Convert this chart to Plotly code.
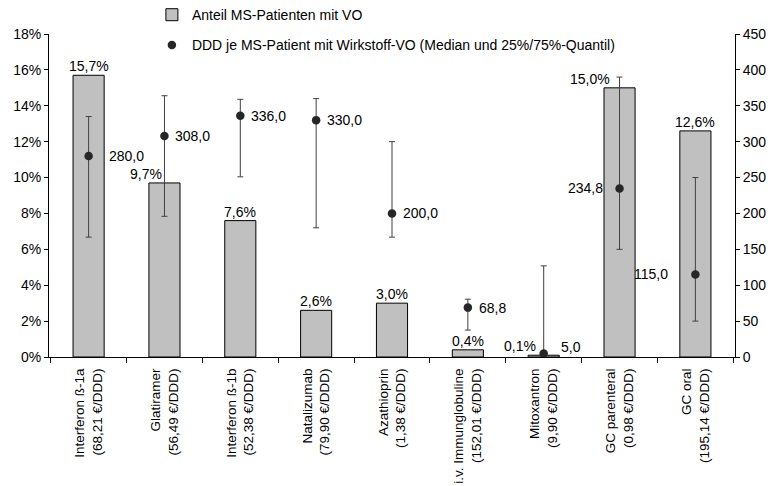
import plotly.graph_objects as go

categories = [
    "Interferon ß-1a<br>(68,21 €/DDD)",
    "Glatiramer<br>(56,49 €/DDD)",
    "Interferon ß-1b<br>(52,38 €/DDD)",
    "Natalizumab<br>(79,90 €/DDD)",
    "Azathioprin<br>(1,38 €/DDD)",
    "i.v. Immunglobuline<br>(152,01 €/DDD)",
    "Mitoxantron<br>(9,90 €/DDD)",
    "GC parenteral<br>(0,98 €/DDD)",
    "GC oral<br>(195,14 €/DDD)",
]
share_pct = [15.7, 9.7, 7.6, 2.6, 3.0, 0.4, 0.1, 15.0, 12.6]
ddd_median = [280.0, 308.0, 336.0, 330.0, 200.0, 68.8, 5.0, 234.8, 115.0]
ddd_q75 = [335, 364, 359, 360, 300, 80.5, 127, 390, 250]
ddd_q25 = [167, 196, 251, 180, 167, 37.5, 0, 150, 50]

left_ticks = list(range(0, 19, 2))
right_ticks = list(range(0, 451, 50))

# label offsets (pixels) – layout only
bar_label_shift = [0, -18, 0, 0, 0, 0, -24, -30, 0]
pt_label_shift = [18, 9, 9, 9, 9, 9, 15, -15, -25]
pt_label_yshift = [0, 0, 0, 0, 0, 0, 6, 0, 0]

font_family = "Liberation Sans, Arial, sans-serif"

fig = go.Figure()
fig.add_trace(go.Bar(
    x=categories, y=share_pct, name="Anteil MS-Patienten mit VO",
    marker=dict(color="#C0C0C0", line=dict(color="#000000", width=1)),
    width=0.41, yaxis="y", legendgroup="a",
))
fig.add_trace(go.Scatter(
    x=categories, y=ddd_median, mode="markers",
    name="DDD je MS-Patient mit Wirkstoff-VO (Median und 25%/75%-Quantil)",
    marker=dict(color="#262626", size=8.5),
    error_y=dict(type="data", symmetric=False,
                 array=[h - m for h, m in zip(ddd_q75, ddd_median)],
                 arrayminus=[m - l for m, l in zip(ddd_median, ddd_q25)],
                 color="#404040", thickness=1, width=3),
    yaxis="y2", legendgroup="b",
))

annotations = []
for c, v, s in zip(categories, share_pct, bar_label_shift):
    annotations.append(dict(
        x=c, y=v, xref="x", yref="y", text=f"{v:.1f}".replace(".", ",") + "%",
        showarrow=False, yanchor="bottom", xanchor="center", xshift=s, yshift=-1,
        font=dict(size=14, color="#000000", family=font_family)))
for c, v, s, ys in zip(categories, ddd_median, pt_label_shift, pt_label_yshift):
    annotations.append(dict(
        x=c, y=v, xref="x", yref="y2", text=f"{v:.1f}".replace(".", ","),
        showarrow=False, yanchor="middle",
        xanchor="left" if s > 0 else "right", xshift=s, yshift=ys,
        font=dict(size=14, color="#000000", family=font_family)))

fig.update_layout(
    width=776, height=486,
    margin=dict(l=49, r=41, t=34, b=129, autoexpand=False),
    paper_bgcolor="white", plot_bgcolor="white",
    font=dict(family=font_family, size=14, color="#000000"),
    showlegend=True,
    legend=dict(x=0.150, y=1.108, xanchor="left", yanchor="top",
                traceorder="grouped", tracegroupgap=9,
                font=dict(size=14), bgcolor="rgba(0,0,0,0)"),
    xaxis=dict(type="category", showline=True, linecolor="#000000", linewidth=1,
               ticks="outside", tickson="boundaries", ticklen=5, tickcolor="#000000",
               tickangle=-90, showgrid=False, tickfont=dict(size=13.5),
               ticklabelstandoff=5, automargin=False),
    yaxis=dict(range=[0, 18], tickvals=left_ticks,
               ticktext=[f"{t}%" for t in left_ticks],
               showline=True, linecolor="#000000", linewidth=1, ticks="outside",
               ticklen=4, tickcolor="#000000", showgrid=False, zeroline=False,
               tickfont=dict(size=14), automargin=False),
    yaxis2=dict(range=[0, 450], tickvals=right_ticks, overlaying="y", side="right",
                showline=True, linecolor="#000000", linewidth=1, ticks="outside",
                ticklen=4, tickcolor="#000000", showgrid=False, zeroline=False,
                tickfont=dict(size=14), automargin=False),
    annotations=annotations,
)

fig.write_html("out.html")
